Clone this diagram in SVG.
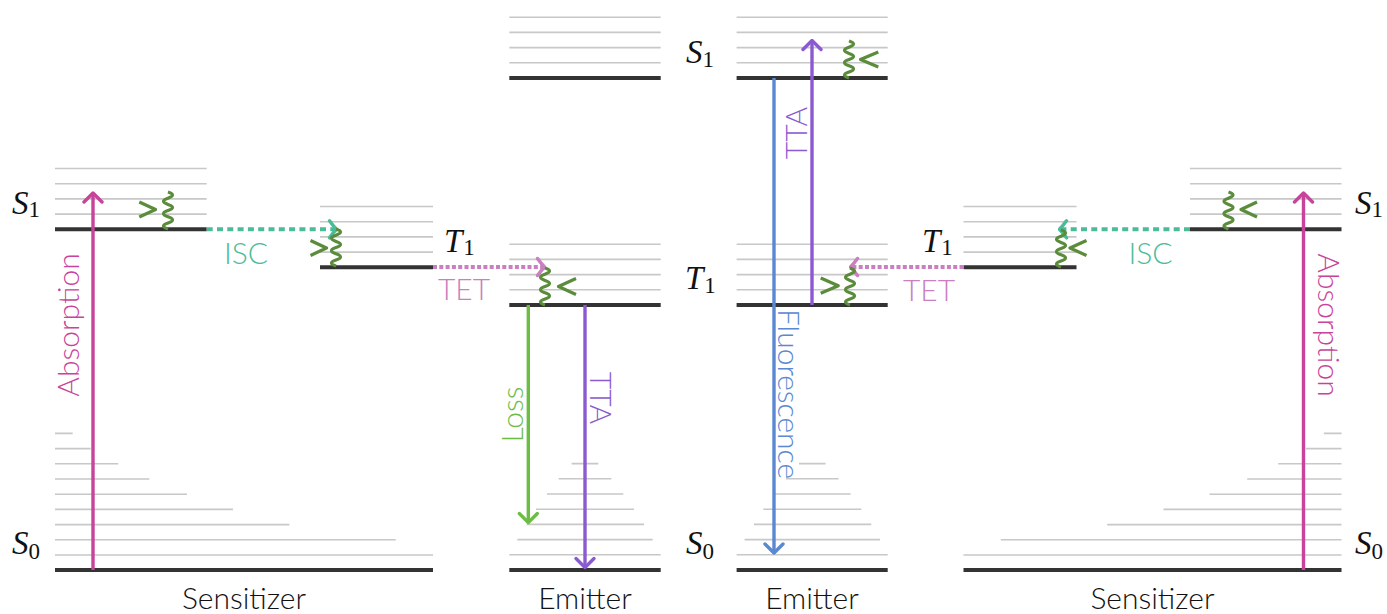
<svg xmlns="http://www.w3.org/2000/svg" xmlns:xlink="http://www.w3.org/1999/xlink" width="1387" height="614" viewBox="0 0 1387 614">
<style>
.g{stroke:#c8c8c8;stroke-width:1.6;fill:none}
.k{stroke:#333;stroke-width:4;fill:none}
.sans{font-family:Lato,"Liberation Sans",sans-serif;font-size:30px;font-weight:300}
.math{font-family:"Liberation Serif","DejaVu Serif",serif;font-size:33px;fill:#111}
.math .v{font-style:italic}
.math .s{font-size:23px}
.arr{fill:none;stroke-width:3.4}
.sq{fill:none;stroke:#5b8c3b;stroke-width:3.2;stroke-linejoin:round}
.mag{stroke:#c8449a}
.pur{stroke:#8c5ad0}
.grn{stroke:#6dbd45}
.blu{stroke:#5b88d2}
.isc{stroke:#4cbb9a;stroke-width:4;stroke-dasharray:6 4.3;fill:none}
.tet{stroke:#c97fc0;stroke-width:4;stroke-dasharray:4 2.3;fill:none}
</style>
<defs>
<marker id="hMag" markerUnits="userSpaceOnUse" viewBox="-12 -12 14 24" markerWidth="14" markerHeight="24" refX="0" refY="0" orient="auto"><path d="M-9,-9 L0,0 L-9,9" fill="none" stroke="#c8449a" stroke-width="3.4" stroke-linejoin="round" stroke-linecap="round"/></marker>
<marker id="hPur" markerUnits="userSpaceOnUse" viewBox="-12 -12 14 24" markerWidth="14" markerHeight="24" refX="0" refY="0" orient="auto"><path d="M-9,-9 L0,0 L-9,9" fill="none" stroke="#8c5ad0" stroke-width="3.4" stroke-linejoin="round" stroke-linecap="round"/></marker>
<marker id="hGrn" markerUnits="userSpaceOnUse" viewBox="-12 -12 14 24" markerWidth="14" markerHeight="24" refX="0" refY="0" orient="auto"><path d="M-9,-9 L0,0 L-9,9" fill="none" stroke="#6dbd45" stroke-width="3.4" stroke-linejoin="round" stroke-linecap="round"/></marker>
<marker id="hBlu" markerUnits="userSpaceOnUse" viewBox="-12 -12 14 24" markerWidth="14" markerHeight="24" refX="0" refY="0" orient="auto"><path d="M-9,-9 L0,0 L-9,9" fill="none" stroke="#5b88d2" stroke-width="3.4" stroke-linejoin="round" stroke-linecap="round"/></marker>
<marker id="hIsc" markerUnits="userSpaceOnUse" viewBox="-12 -12 14 24" markerWidth="14" markerHeight="24" refX="0" refY="0" orient="auto"><path d="M-7,-8.5 Q-3,-3 0,0 Q-3,3 -7,8.5" fill="none" stroke="#4cbb9a" stroke-width="3.5" stroke-linejoin="round" stroke-linecap="round"/></marker>
<marker id="hTet" markerUnits="userSpaceOnUse" viewBox="-12 -12 14 24" markerWidth="14" markerHeight="24" refX="0" refY="0" orient="auto"><path d="M-7,-8.5 Q-3,-3 0,0 Q-3,3 -7,8.5" fill="none" stroke="#c97fc0" stroke-width="3.5" stroke-linejoin="round" stroke-linecap="round"/></marker>
<path id="wave" d="M0,0 q9,3.1 0,6.2 t0,6.2 t0,6.2 t0,6.2 t0,6.2 t0,6"/>
</defs>

<g id="sensitizer-left">
<path class="g" d="M55,168.5H206.7M55,183.7H206.7M55,198.9H206.7M55,214.1H206.7"/>
<path class="g" d="M320,206.5H433M320,221.7H433M320,236.9H433M320,252.1H433"/>
<path class="g" d="M55,555H433M55,539.8H395.7M55,524.6H289.3M55,509.4H233M55,494.2H187M55,479H149.3M55,463.8H118.3M55,448.6H90.7M55,433.4H72.7"/>
<path class="k" d="M55,229.3H206.7M320,267.3H433M55,570H433"/>
<text class="math" x="12" y="213.5"><tspan class="v">S</tspan><tspan class="s" dy="3.5">1</tspan></text>
<text class="math" x="12" y="554"><tspan class="v">S</tspan><tspan class="s" dy="4.5">0</tspan></text>
<text class="math" x="444" y="251.5"><tspan class="v">T</tspan><tspan class="s" dx="1" dy="3.5">1</tspan></text>
<text class="sans" x="244" y="608.5" text-anchor="middle" fill="#111">Sensitizer</text>
</g>

<g id="emitter-left">
<path class="g" d="M509.3,17.2H660.7M509.3,32.4H660.7M509.3,47.6H660.7M509.3,62.8H660.7"/>
<path class="g" d="M509.3,244.2H660.7M509.3,259.4H660.7M509.3,274.6H660.7M509.3,289.8H660.7"/>
<path class="g" d="M509.3,554.8H660.7M517.3,539.6H652.7M526.7,524.4H644M536,509.2H634M547,494H623.3M558.7,478.8H611.3M571.7,463.6H598.3"/>
<path class="k" d="M509.3,78H660.7M509.3,305H660.7M509.3,570H660.7"/>
<text class="sans" x="585" y="608.5" text-anchor="middle" fill="#111">Emitter</text>
</g>

<g id="emitter-right">
<path class="g" d="M736.6,17.2H887.7M736.6,32.4H887.7M736.6,47.6H887.7M736.6,62.8H887.7"/>
<path class="g" d="M736.6,244.2H887.7M736.6,259.4H887.7M736.6,274.6H887.7M736.6,289.8H887.7"/>
<path class="g" d="M736.6,554.8H887.7M744.6,539.6H880M754,524.4H871.3M763.3,509.2H861.3M774.3,494H850.6M786,478.8H838.6M799,463.6H825.6"/>
<path class="k" d="M736.6,78H887.7M736.6,305H887.7M736.6,570H887.7"/>
<text class="math" x="686" y="62.5"><tspan class="v">S</tspan><tspan class="s" dy="4">1</tspan></text>
<text class="math" x="685" y="289"><tspan class="v">T</tspan><tspan class="s" dx="1" dy="4">1</tspan></text>
<text class="math" x="686" y="554"><tspan class="v">S</tspan><tspan class="s" dy="4.5">0</tspan></text>
<text class="sans" x="812" y="608.5" text-anchor="middle" fill="#111">Emitter</text>
</g>

<g id="sensitizer-right">
<path class="g" d="M1190,168.5H1341.5M1190,183.7H1341.5M1190,198.9H1341.5M1190,214.1H1341.5"/>
<path class="g" d="M963.5,206.5H1076.5M963.5,221.7H1076.5M963.5,236.9H1076.5M963.5,252.1H1076.5"/>
<path class="g" d="M963.5,555H1341.5M1000.8,539.8H1341.5M1107.2,524.6H1341.5M1163.5,509.4H1341.5M1209.5,494.2H1341.5M1247.2,479H1341.5M1278.2,463.8H1341.5M1305.8,448.6H1341.5M1323.8,433.4H1341.5"/>
<path class="k" d="M1190,229.3H1341.5M963.5,267.3H1076.5M963.5,570H1341.5"/>
<text class="math" x="1355" y="213.5"><tspan class="v">S</tspan><tspan class="s" dy="3.5">1</tspan></text>
<text class="math" x="1355" y="554"><tspan class="v">S</tspan><tspan class="s" dy="4.5">0</tspan></text>
<text class="math" x="922" y="251.5"><tspan class="v">T</tspan><tspan class="s" dx="1" dy="3.5">1</tspan></text>
<text class="sans" x="1152.5" y="608.5" text-anchor="middle" fill="#111">Sensitizer</text>
</g>

<g id="connectors">
<path class="arr mag" d="M93,570V193" marker-end="url(#hMag)"/>
<text class="sans" transform="translate(79,325) rotate(-90)" text-anchor="middle" fill="#c8449a">Absorption</text>
<path class="isc" d="M206.7,229.3H336.5" marker-end="url(#hIsc)"/>
<text class="sans" x="246" y="264" text-anchor="middle" fill="#4cbb9a">ISC</text>
<path class="tet" d="M433,267H544.5" marker-end="url(#hTet)"/>
<text class="sans" x="464" y="300" text-anchor="middle" fill="#c97fc0">TET</text>
<path class="arr grn" d="M528.3,305V522.5" marker-end="url(#hGrn)"/>
<text class="sans" transform="translate(523,414.5) rotate(-90)" text-anchor="middle" fill="#6dbd45">Loss</text>
<path class="arr pur" d="M585,305V567.5" marker-end="url(#hPur)"/>
<text class="sans" transform="translate(590,398) rotate(90)" text-anchor="middle" fill="#8c5ad0">TTA</text>
<path class="arr blu" d="M774,78V553" marker-end="url(#hBlu)"/>
<text class="sans" transform="translate(778,394) rotate(90)" text-anchor="middle" fill="#5b88d2">Fluorescence</text>
<path class="arr pur" d="M812,305V40.5" marker-end="url(#hPur)"/>
<text class="sans" transform="translate(806.5,133) rotate(-90)" text-anchor="middle" fill="#8c5ad0">TTA</text>
<path class="tet" d="M963.5,267H850.5" marker-end="url(#hTet)"/>
<text class="sans" x="929" y="301" text-anchor="middle" fill="#c97fc0">TET</text>
<path class="isc" d="M1190,229.3H1059.5" marker-end="url(#hIsc)"/>
<text class="sans" x="1150.5" y="264" text-anchor="middle" fill="#4cbb9a">ISC</text>
<path class="arr mag" d="M1303.5,570V193" marker-end="url(#hMag)"/>
<text class="sans" transform="translate(1317.5,325) rotate(90)" text-anchor="middle" fill="#c8449a">Absorption</text>
<use href="#wave" class="sq" x="168" y="192"/>
<path class="sq" d="M139.3,202L155.5,209.5L139.3,217"/>
<use href="#wave" class="sq" x="336" y="229"/>
<path class="sq" d="M310.5,240.5L326.5,248L310.5,255.5"/>
<use href="#wave" class="sq" x="545" y="268"/>
<path class="sq" d="M576,278.5L558.5,286.5L576,294.5"/>
<use href="#wave" class="sq" x="849" y="41"/>
<path class="sq" d="M878.3,52L860.5,59.5L878.3,67"/>
<use href="#wave" class="sq" x="850" y="268"/>
<path class="sq" d="M820.7,278L838.3,285.7L820.7,293.3"/>
<use href="#wave" class="sq" x="1061" y="230"/>
<path class="sq" d="M1086.5,240.5L1070,248L1086.5,255.5"/>
<use href="#wave" class="sq" x="1228.5" y="192"/>
<path class="sq" d="M1257,202L1241,209.5L1257,217"/>
</g>
</svg>
